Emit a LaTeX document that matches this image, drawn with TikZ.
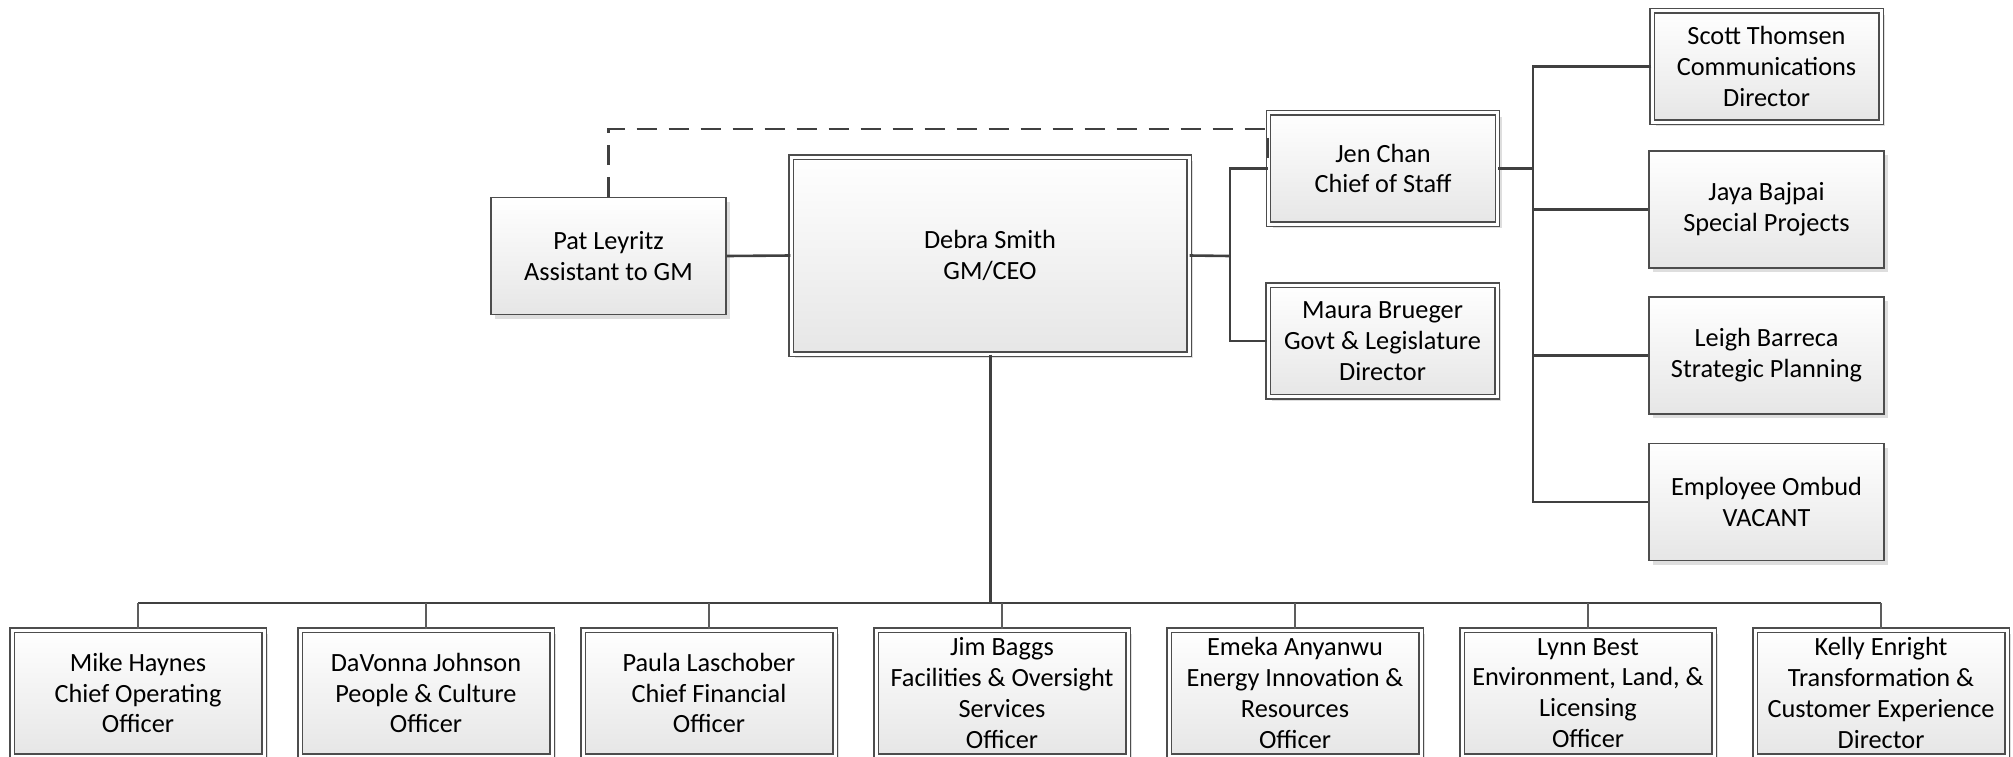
\documentclass[tikz,border=0pt]{standalone}
\usepackage{fontspec}
\setmainfont{Carlito}
\usetikzlibrary{shadows}
\definecolor{linec}{HTML}{404040}
\definecolor{boxline}{HTML}{4D4D4D}
\definecolor{boxbot}{HTML}{E6E6E6}
\tikzset{
  orgbox/.style={draw=boxline, line width=1.3pt, top color=white, bottom color=boxbot,
    align=center, inner sep=0pt, text=black,
    font=\fontsize{26.3}{30.8}\selectfont,
    minimum width=235pt, minimum height=117pt,
    drop shadow={shadow xshift=4pt, shadow yshift=-4pt, fill=black!13, opacity=1}},
  dbl/.style={double=white, double distance=3pt},
  dblbox/.style={orgbox, dbl, minimum width=229pt, minimum height=111.5pt},
  botbox/.style={orgbox, dbl, minimum width=252pt, minimum height=126pt},
  conn/.style={draw=linec, line width=2.6pt},
  dropline/.style={draw=linec!85, line width=1.8pt},
  dashconn/.style={draw=linec, line width=2.6pt, dash pattern=on 20pt off 12pt},
}
\begin{document}
\begin{tikzpicture}[x=1pt, y=-1pt]
\useasboundingbox (0,0) rectangle (2013,756);
\clip (0,0) rectangle (2013,756);
\fill[white] (0,0) rectangle (2013,756);

% top level
\node[orgbox] (pat) at (608.5,256) {Pat Leyritz\\Assistant to GM};
\node[orgbox, dbl, minimum width=398pt, minimum height=197pt] (debra) at (990,255.5) {Debra Smith\\GM/CEO};
\node[dblbox] (jen) at (1383,168.5) {Jen Chan\\Chief of Staff};
\node[dblbox] (maura) at (1382.5,341) {Maura Brueger\\Govt \& Legislature\\Director};
\node[dblbox] (scott) at (1766.5,66.5) {Scott Thomsen\\Communications\\Director};
\node[orgbox] (jaya) at (1766.5,209.5) {Jaya Bajpai\\Special Projects};
\node[orgbox] (leigh) at (1766.5,355.5) {Leigh Barreca\\Strategic Planning};
\node[orgbox] (emp) at (1766.5,502) {Employee Ombud\\VACANT};

% bottom row
\node[botbox] (mike) at (138,693) {Mike Haynes\\Chief Operating\\Officer};
\node[botbox] (davonna) at (426,693) {DaVonna Johnson\\People \& Culture\\Officer};
\node[botbox] (paula) at (709,693) {Paula Laschober\\Chief Financial\\Officer};
\node[botbox] (jim) at (1002,693) {Jim Baggs\\Facilities \& Oversight\\Services\\Officer};
\node[botbox] (emeka) at (1295,693) {Emeka Anyanwu\\Energy Innovation \&\\Resources\\Officer};
\node[botbox] (lynn) at (1588,693) {Lynn Best\\Environment, Land, \&\\Licensing\\Officer};
\node[botbox] (kelly) at (1881,693) {Kelly Enright\\Transformation \&\\Customer Experience\\Director};

% bus coordinates
\coordinate (b1) at (1230,256);
\coordinate (b2) at (1533,168.5);
\coordinate (b3) at (990,603);
\coordinate (d1) at (608.5,129);

% connectors
\draw[conn] (pat.east) -- (debra.west);
\draw[conn] (debra.east) -- (b1);
\draw[conn] (jen.west) -| (b1) |- (maura.west);
\draw[conn] (jen.east) -- (b2);
\draw[conn] (scott.west) -| (b2);
\draw[conn] (b2) |- (jaya.west);
\draw[conn] (b2) |- (leigh.west);
\draw[conn] (b2) |- (emp.west);
\draw[conn, line width=3pt] (debra.south) -- (b3);
\draw[conn] (mike.north |- b3) -- (kelly.north |- b3);
\foreach \n in {mike,davonna,paula,jim,emeka,lynn,kelly}{
  \draw[dropline] (\n.north) -- (\n.north |- b3);
}
\draw[dashconn] (pat.north) -- (pat.north |- d1) -- (jen.west |- d1) -- (jen.west);
\end{tikzpicture}
\end{document}
